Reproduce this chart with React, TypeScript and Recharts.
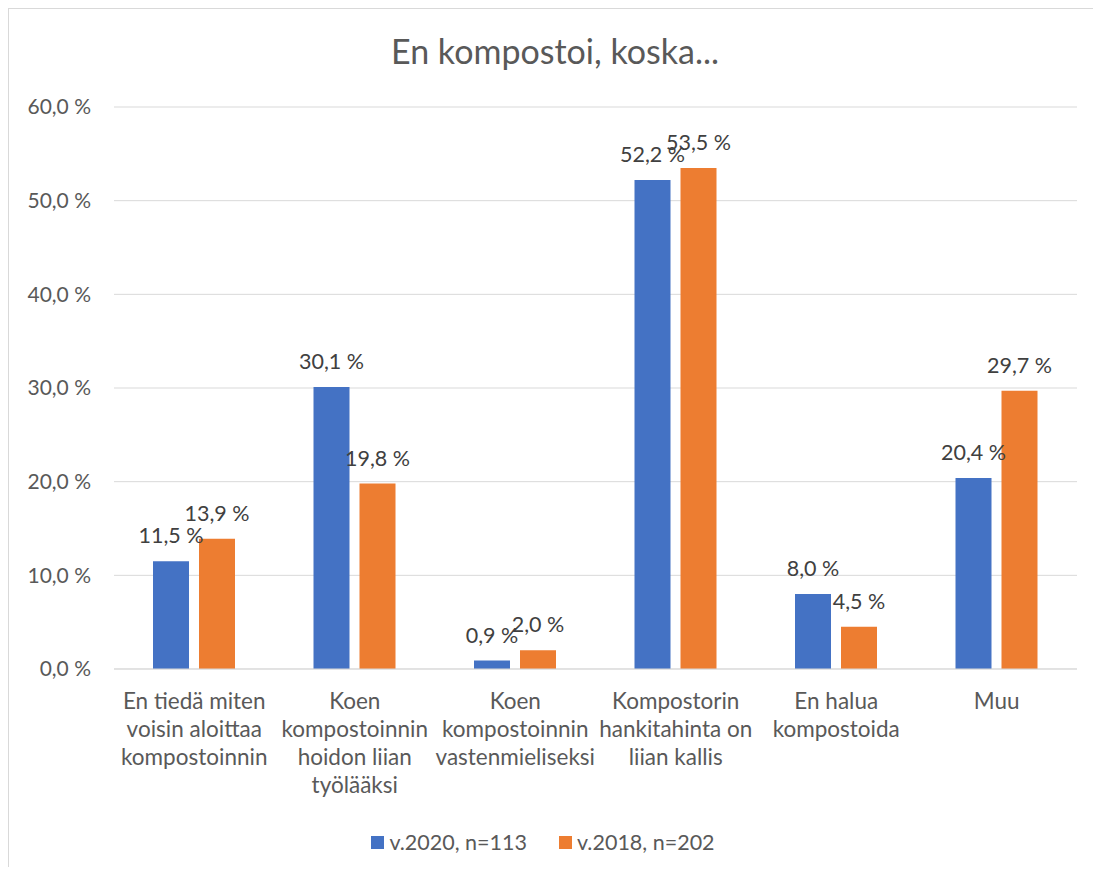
import { Bar, BarChart, CartesianGrid, LabelList, Legend, XAxis, YAxis } from "recharts";

const categories = [
  "En tiedä miten\nvoisin aloittaa\nkompostoinnin",
  "Koen\nkompostoinnin\nhoidon liian\ntyölääksi",
  "Koen\nkompostoinnin\nvastenmieliseksi",
  "Kompostorin\nhankitahinta on\nliian kallis",
  "En halua\nkompostoida",
  "Muu",
];
const values2020 = [11.5, 30.1, 0.9, 52.2, 8.0, 20.4];
const values2018 = [13.9, 19.8, 2.0, 53.5, 4.5, 29.7];
const yTicks = [0, 10, 20, 30, 40, 50, 60];

const seriesNames = { v2020: "v.2020, n=113", v2018: "v.2018, n=202" };
const BLUE = "#4472C4";
const ORANGE = "#ED7D31";
const FONT = "Lato, 'Open Sans', sans-serif";

const data = categories.map((name, i) => ({
  name,
  v2020: values2020[i],
  v2018: values2018[i],
}));

const fmt = (v: number) => v.toFixed(1).replace(".", ",") + " %";

function CategoryTick(props: any) {
  const { x, y, payload } = props;
  const lines = String(payload.value).split("\n");
  return (
    <text x={x} y={y} textAnchor="middle" fill="#595959" fontSize={22.5} fontFamily={FONT}>
      {lines.map((line, i) => (
        <tspan key={i} x={x} dy={i === 0 ? 40 : 28}>
          {line}
        </tspan>
      ))}
    </text>
  );
}

// bar value label, drawn without wrapping (Excel lets them overlap)
function ValueLabel(props: any) {
  const { x, y, width, value } = props;
  return (
    <text
      x={Number(x) + Number(width) / 2}
      y={Number(y) - 18}
      textAnchor="middle"
      fill="#404040"
      fontSize={21.5}
      fontFamily={FONT}
    >
      {fmt(Number(value))}
    </text>
  );
}

function LegendContent() {
  const items = [
    { label: seriesNames.v2020, color: BLUE },
    { label: seriesNames.v2018, color: ORANGE },
  ];
  return (
    <div style={{ display: "flex", justifyContent: "center", gap: 32, height: 30, alignItems: "center" }}>
      {items.map((it) => (
        <div key={it.label} style={{ display: "flex", alignItems: "center", gap: 5 }}>
          <span style={{ width: 13, height: 13, background: it.color, display: "inline-block" }} />
          <span style={{ color: "#595959", fontSize: 21.5, fontFamily: FONT }}>{it.label}</span>
        </div>
      ))}
    </div>
  );
}

export default function App() {
  return (
    <div
      style={{
        position: "relative",
        width: 1092,
        height: 858,
        borderLeft: "1px solid #d9d9d9",
        borderTop: "1px solid #d9d9d9",
        background: "#fff",
      }}
    >
      <div
        style={{
          position: "absolute",
          top: 21,
          left: 0,
          width: 1092,
          textAlign: "center",
          fontFamily: FONT,
          fontSize: 34,
          color: "#595959",
        }}
      >
        En kompostoi, koska...
      </div>
      <BarChart
        width={1092}
        height={858}
        data={data}
        margin={{ top: 98, right: 24, bottom: 10, left: 0 }}
        barSize={36}
        barGap={10}
      >
        <CartesianGrid vertical={false} stroke="#d9d9d9" />
        <XAxis
          dataKey="name"
          interval={0}
          height={158}
          tickLine={false}
          tickSize={0}
          tickMargin={0}
          axisLine={{ stroke: "#d9d9d9" }}
          tick={<CategoryTick />}
        />
        <YAxis
          width={105}
          domain={[0, 60]}
          ticks={yTicks}
          tickFormatter={fmt}
          axisLine={false}
          tickLine={false}
          tickSize={0}
          tickMargin={23}
          tick={{ fill: "#595959", fontSize: 21, fontFamily: FONT }}
        />
        <Legend verticalAlign="bottom" height={30} content={<LegendContent />} />
        <Bar dataKey="v2020" name={seriesNames.v2020} fill={BLUE} isAnimationActive={false}>
          <LabelList dataKey="v2020" content={<ValueLabel />} />
        </Bar>
        <Bar dataKey="v2018" name={seriesNames.v2018} fill={ORANGE} isAnimationActive={false}>
          <LabelList dataKey="v2018" content={<ValueLabel />} />
        </Bar>
      </BarChart>
    </div>
  );
}
